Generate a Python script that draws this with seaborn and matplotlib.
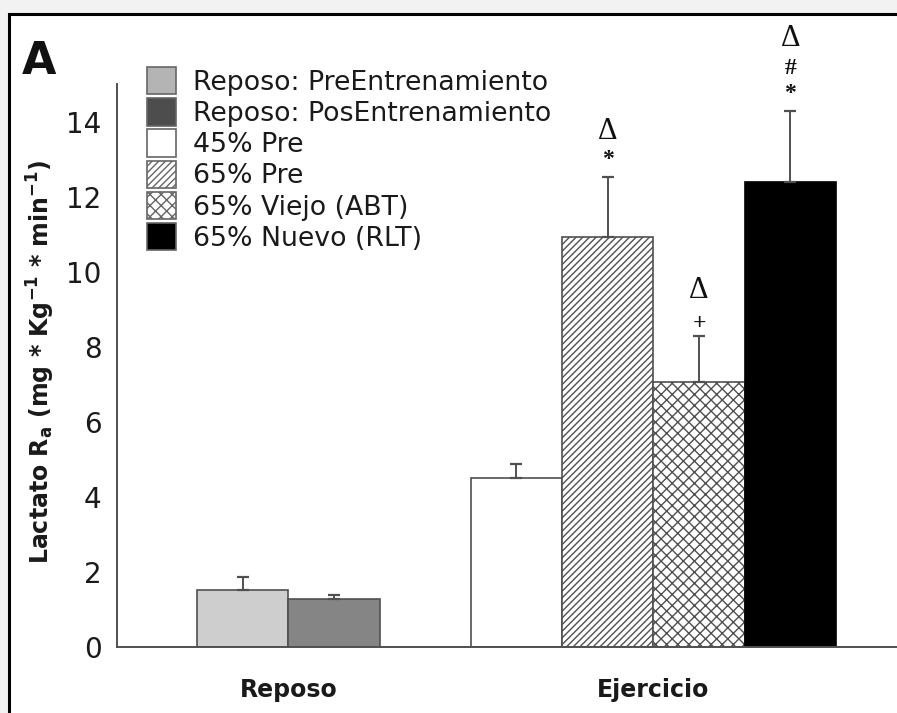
import numpy as np
import pandas as pd
import matplotlib
matplotlib.use("Agg")
import matplotlib.pyplot as plt
from matplotlib.patches import Patch, Rectangle
import seaborn as sns

# ---- data -------------------------------------------------------------
grupos = ["Reposo", "Ejercicio"]
grupo_de_barra = ["Reposo", "Reposo", "Ejercicio", "Ejercicio", "Ejercicio", "Ejercicio"]
series = ["Reposo: PreEntrenamiento", "Reposo: PosEntrenamiento", "45% Pre",
          "65% Pre", "65% Viejo (ABT)", "65% Nuevo (RLT)"]
medias = [1.53, 1.28, 4.50, 10.94, 7.07, 12.39]
errores = [0.34, 0.11, 0.38, 1.58, 1.22, 1.90]
marcas = [[], [], [], ["*", "Δ"], ["+", "Δ"], ["*", "#", "Δ"]]
y_ticks = [0, 2, 4, 6, 8, 10, 12, 14]

# ---- styles -----------------------------------------------------------
colores_barra = ["#cecece", "#858585", "#ffffff", "#ffffff", "#ffffff", "#000000"]
colores_leyenda = ["#b4b4b4", "#4d4d4d", "#ffffff", "#ffffff", "#ffffff", "#000000"]
tramas = ["", "", "", "/////", "xxx", ""]
borde = "#505050"

sns.set_style("white")
plt.rcParams["font.family"] = ["DejaVu Sans"]
plt.rcParams["mathtext.default"] = "bf"
plt.rcParams["hatch.linewidth"] = 1.0

# bar positions: each group is centred on 4*g, bars one unit wide
pos = []
for g, nombre in enumerate(grupos):
    n = grupo_de_barra.count(nombre)
    pos += [4 * g + i - (n - 1) / 2 for i in range(n)]

df = pd.DataFrame({"pos": pos, "valor": medias, "serie": series})

fig = plt.figure(figsize=(8.97, 7.13), dpi=100, facecolor="#f2f2f2")
fig.patches.append(Rectangle((9 / 897, -0.05), 1.2, 1.05 - 14 / 713,
                             transform=fig.transFigure, facecolor="white",
                             edgecolor="black", linewidth=2.2, zorder=-10))
ax = fig.add_axes([117 / 897, 1 - 647 / 713, 1 - 117 / 897, (647 - 84.5) / 713])
ax.set_facecolor("none")

sns.barplot(data=df, x="pos", y="valor", hue="serie", hue_order=series,
            palette=dict(zip(series, colores_barra)), native_scale=True,
            dodge=False, width=1.0, errorbar=None, legend=False,
            edgecolor=borde, linewidth=1.2, ax=ax)

# hatching by bar centre
for p in ax.patches:
    xc = p.get_x() + p.get_width() / 2
    k = int(np.argmin(np.abs(np.array(pos) - xc)))
    p.set_hatch(tramas[k])
    p.set_edgecolor(borde if colores_barra[k] != "#000000" else "#000000")

# upper error bars only
ax.errorbar(pos, medias, yerr=[np.zeros(len(medias)), errores], fmt="none",
            ecolor=borde, elinewidth=1.4, capsize=4.3, capthick=1.6, zorder=3)

# significance symbols stacked above each error bar
desplaz = [19, 46, 73]
ajustes = {"*": -1, "#": -3, "+": -6, "Δ": 0}
for x, m, e, simbolos in zip(pos, medias, errores, marcas):
    for j, s in enumerate(simbolos):
        tam = 22 if s == "Δ" else 17
        peso = "normal" if s == "Δ" else "bold"
        ax.annotate(s, xy=(x, m + e), xytext=(0, desplaz[j] + ajustes[s]),
                    textcoords="offset pixels", ha="center", va="center",
                    fontsize=tam, fontweight=peso, family="Liberation Serif",
                    color="#111111", annotation_clip=False)

# axes
ax.set_xlim(-1.876, 6.668)
ax.set_ylim(0, 15)
ax.set_yticks(y_ticks)
ax.set_yticks(np.arange(0, 15.01, 0.5), minor=True)
ax.set_xticks([0, 4])
ax.set_xticklabels(grupos, fontsize=17, fontweight="bold", color="#1a1a1a")
ax.tick_params(axis="x", length=0, pad=22)
ax.tick_params(axis="y", which="major", direction="in", length=8, width=1.2,
               color=borde, labelsize=20, pad=11, labelcolor="#1a1a1a")
ax.tick_params(axis="y", which="minor", direction="in", length=5, width=1.2,
               color=borde)
for s in ["top", "right"]:
    ax.spines[s].set_visible(False)
for s in ["left", "bottom"]:
    ax.spines[s].set_color(borde)
    ax.spines[s].set_linewidth(1.4)
ax.spines["left"].set_bounds(0, 15)
ax.set_xlabel("")
ax.set_ylabel(r"Lactato R$_a$ (mg * Kg$^{-1}$ * min$^{-1}$)", fontsize=17,
              fontweight="bold", color="#1a1a1a")
ax.yaxis.set_label_coords(-0.077, 0.5076)

# legend
handles = [Patch(facecolor=c, edgecolor="#666666", hatch=h, linewidth=1.2)
           for c, h in zip(colores_leyenda, tramas)]
fig.legend(handles, series, loc="upper left",
           bbox_to_anchor=(147 / 897, 1 - 67 / 713), frameon=False,
           fontsize=19.3, handlelength=1.1, handleheight=1.2,
           labelspacing=0.09, handletextpad=0.6, borderpad=0,
           borderaxespad=0, labelcolor="#1a1a1a")

fig.text(22 / 897, 1 - 40 / 713, "A", fontsize=32, fontweight="bold",
         ha="left", va="top", color="#111111")

fig.savefig("out.png", dpi=100, facecolor=fig.get_facecolor())
